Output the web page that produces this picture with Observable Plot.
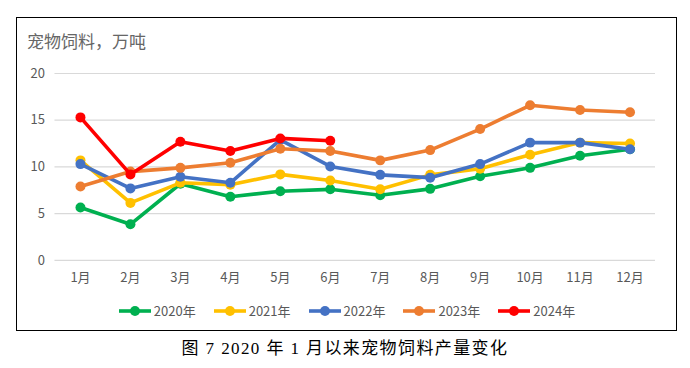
<!DOCTYPE html>
<html>
<head>
<meta charset="utf-8">
<script src="https://cdn.jsdelivr.net/npm/d3@7"></script>
<script src="https://cdn.jsdelivr.net/npm/@observablehq/plot@0.6"></script>
<style>
  html, body { margin: 0; padding: 0; background: #fff; }
  body { width: 690px; height: 368px; position: relative; overflow: hidden; font-family: "Noto Sans CJK SC", "Noto Sans", sans-serif; }
  #box { position: absolute; left: 16px; top: 17px; width: 661px; height: 314px; border: 1.5px solid #000; box-sizing: border-box; }
  #title { position: absolute; left: 10px; top: 12px; font-size: 17px; color: #666; line-height: 22px; }
  #chart { position: absolute; left: -1.5px; top: 41.5px; }
  #legend { position: absolute; left: 0; right: 0; top: 283px; display: flex; justify-content: center; gap: 17px; font-size: 13px; color: #595959; }
  .item { display: flex; align-items: center; }
  .item svg { margin-right: 2px; }
  #caption { position: absolute; left: 0; right: 0; top: 338px; text-align: center; font-family: "Liberation Serif", "Noto Sans CJK SC", serif; font-weight: normal; font-size: 17px; letter-spacing: 1.4px; color: #000; line-height: 22px; }
</style>
</head>
<body>
<div id="box">
  <div id="title">宠物饲料，万吨</div>
  <div id="chart"></div>
  <div id="legend"></div>
</div>
<div id="caption">图 7 2020 年 1 月以来宠物饲料产量变化</div>
<script>
const months = ["1月","2月","3月","4月","5月","6月","7月","8月","9月","10月","11月","12月"];
const seriesNames = ["2020年","2021年","2022年","2023年","2024年"];
const colors = ["#00B050","#FFC000","#4472C4","#ED7D31","#FF0000"];
const yTicks = [0, 5, 10, 15, 20];
const v2020 = [5.65, 3.86, 8.2, 6.8, 7.4, 7.6, 6.97, 7.65, 9.0, 9.9, 11.2, 11.9];
const v2021 = [10.7, 6.15, 8.3, 8.1, 9.2, 8.55, 7.6, 9.15, 9.8, 11.3, 12.6, 12.5];
const v2022 = [10.3, 7.7, 8.95, 8.3, 12.9, 10.05, 9.15, 8.85, 10.3, 12.6, 12.6, 11.9];
const v2023 = [7.9, 9.5, 9.9, 10.45, 11.95, 11.7, 10.7, 11.8, 14.05, 16.6, 16.1, 15.85];
const v2024 = [15.3, 9.2, 12.7, 11.7, 13.05, 12.8];
const allValues = [v2020, v2021, v2022, v2023, v2024];

const data = [];
allValues.forEach((vals, si) => {
  vals.forEach((v, i) => data.push({ series: seriesNames[si], month: months[i], value: v }));
});

const marks = [
  Plot.gridY(yTicks, { stroke: "#d9d9d9", strokeOpacity: 1, strokeWidth: 1.2 }),
  Plot.axisY(yTicks, { tickSize: 0, tickPadding: 10, fontSize: 13, fill: "#595959", label: null }),
  Plot.axisX({ tickSize: 0, tickPadding: 12, fontSize: 13, fill: "#595959", label: null })
];
seriesNames.forEach((name, si) => {
  const d = data.filter(r => r.series === name);
  marks.push(Plot.line(d, { x: "month", y: "value", stroke: colors[si], strokeWidth: 3.6, strokeLinejoin: "round" }));
  marks.push(Plot.dot(d, { x: "month", y: "value", fill: colors[si], r: 5, stroke: "none" }));
});

const chart = Plot.plot({
  width: 661,
  height: 230,
  marginLeft: 38.5,
  marginRight: 21.5,
  marginTop: 13,
  marginBottom: 30,
  style: { background: "transparent", fontFamily: "'Noto Sans CJK SC', 'Noto Sans', sans-serif", fontSize: "13px", overflow: "visible" },
  x: { type: "point", domain: months, padding: 0.5, label: null },
  y: { domain: [0, 20], label: null },
  marks
});
document.getElementById("chart").appendChild(chart);

const legend = document.getElementById("legend");
seriesNames.forEach((name, si) => {
  const item = document.createElement("div");
  item.className = "item";
  item.innerHTML = `<svg width="34" height="12"><line x1="1" y1="6" x2="33" y2="6" stroke="${colors[si]}" stroke-width="3.6"/><circle cx="17" cy="6" r="5" fill="${colors[si]}"/></svg><span>${name}</span>`;
  legend.appendChild(item);
});
</script>
</body>
</html>
